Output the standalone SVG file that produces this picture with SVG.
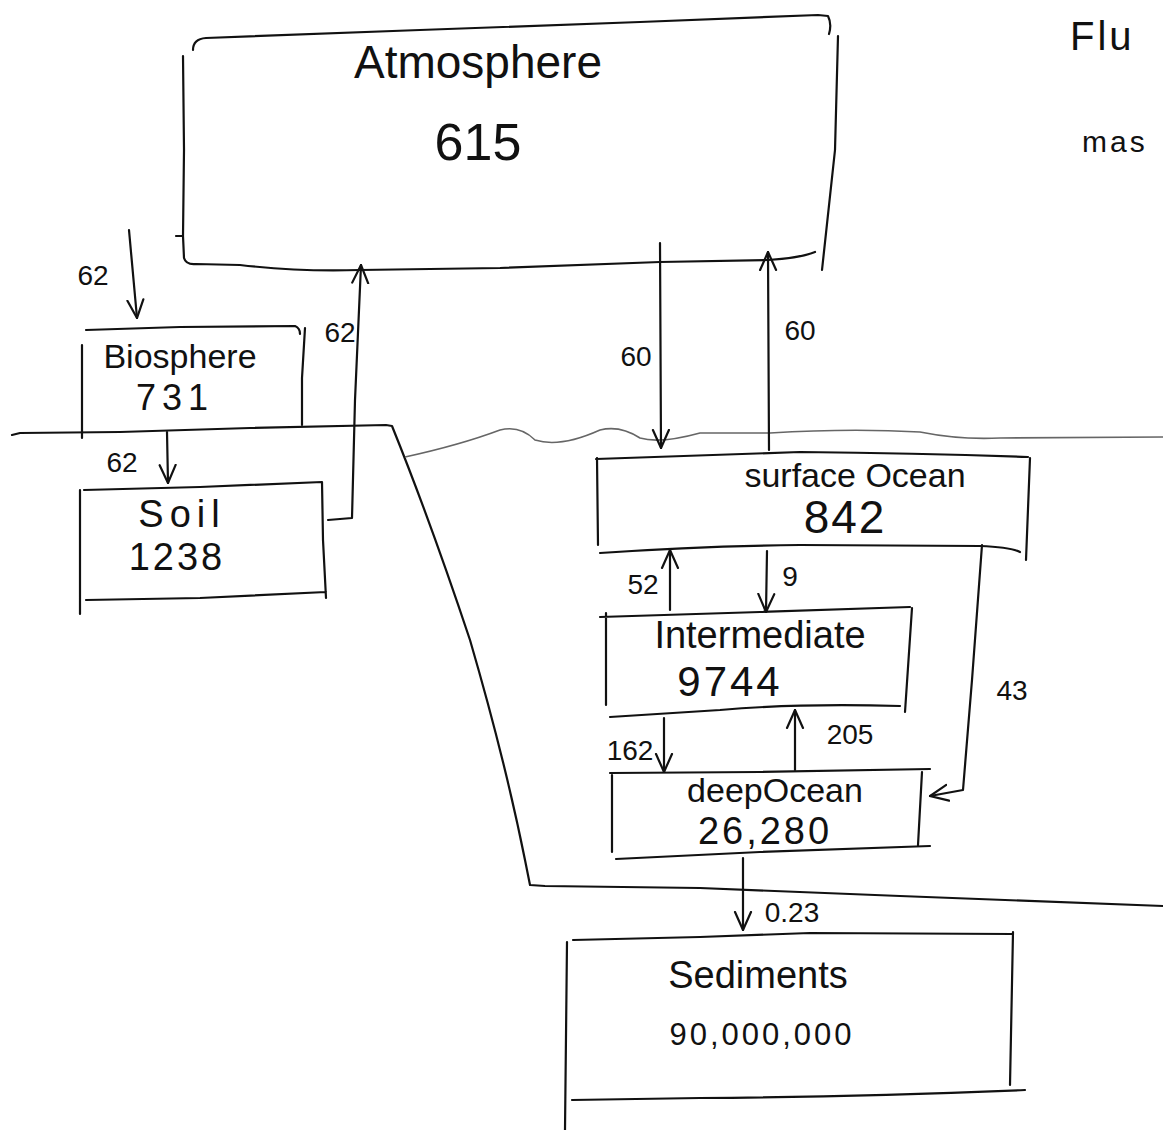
<svg xmlns="http://www.w3.org/2000/svg" width="1163" height="1130" viewBox="0 0 1163 1130">
<style>
.ln{fill:none;stroke:#111;stroke-width:2.2;stroke-linecap:round;stroke-linejoin:round}
.gr{fill:none;stroke:#666;stroke-width:1.6}
.t{font-family:"Liberation Sans","DejaVu Sans",sans-serif;fill:#111;text-anchor:middle}
.s{font-family:"Liberation Sans","DejaVu Sans",sans-serif;fill:#111;text-anchor:start}
.lbl{font-family:"Liberation Sans","DejaVu Sans",sans-serif;fill:#111;font-size:28px;text-anchor:middle}
</style>
<defs>
<marker id="arr" viewBox="0 0 20 20" refX="19" refY="10" markerWidth="20" markerHeight="20" markerUnits="userSpaceOnUse" orient="auto">
<path d="M1,2 L19,10 L1,18" fill="none" stroke="#111" stroke-width="2.2" stroke-linecap="round"/>
</marker>
</defs>
<rect width="1163" height="1130" fill="#fff"/>

<g id="terrain">
<path class="ln" d="M12,435 L20,433 L120,432 L250,428 L386,425 L392,426 Q430,520 470,640 Q505,760 525,860 L530,885 L545,886 L700,888 L900,896 L1163,906"/>
<path class="gr" d="M405,457 Q460,445 500,430 Q520,425 535,440 Q560,448 600,430 Q620,425 640,438 Q660,444 700,433 L770,433 Q850,428 920,432 Q960,440 1000,438 L1163,437"/>
</g>

<g id="title">
<text class="s" x="1070" y="50" font-size="40" letter-spacing="3">Flu</text>
<text class="s" x="1082" y="152" font-size="30" letter-spacing="3">mas</text>
</g>

<g id="atmosphere">
<path class="ln" d="M193,50 Q193,39 206,38 L420,30 L640,22 L818,15 L828,16 Q832,24 829,34"/>
<path class="ln" d="M183,56 L184,150 L183,236 M176,236 L183,236 L184,258 Q186,265 196,264 L240,265 Q300,272 360,270 L500,268 L660,262 L768,260 Q800,258 815,252"/>
<path class="ln" d="M838,36 L835,150 L822,270"/>
<text class="t" x="478" y="78" font-size="46">Atmosphere</text>
<text class="t" x="478" y="160" font-size="52">615</text>
</g>

<g id="biosphere">
<path class="ln" d="M86,330 L180,327 L295,326 Q300,328 300,334 M305,328 L302,378 L302,425 M82,345 L82,438"/>
<text class="t" x="180" y="368" font-size="34">Biosphere</text>
<text class="t" x="175" y="410" font-size="36" letter-spacing="6">731</text>
</g>

<g id="soil">
<path class="ln" d="M84,490 L200,487 L322,482 L323,540 L326,598 M86,600 L200,598 L326,592 M80,490 L80,614"/>
<text class="t" x="182" y="527" font-size="38" letter-spacing="6">Soil</text>
<text class="t" x="177" y="570" font-size="38" letter-spacing="3">1238</text>
</g>

<g id="surface-ocean">
<path class="ln" d="M596,459 Q700,455 800,452 Q920,453 1028,457 M597,458 L598,545 M1030,458 L1026,560 M600,553 Q700,546 800,545 L980,546 Q1010,547 1020,552"/>
<text class="t" x="855" y="487" font-size="34">surface Ocean</text>
<text class="t" x="845" y="533" font-size="46" letter-spacing="2">842</text>
</g>

<g id="intermediate">
<path class="ln" d="M600,617 L760,612 L910,607 M606,613 L606,705 M912,608 L905,712 M610,717 L720,710 Q800,703 900,706"/>
<text class="t" x="760" y="648" font-size="38">Intermediate</text>
<text class="t" x="730" y="696" font-size="42" letter-spacing="3">9744</text>
</g>

<g id="deep-ocean">
<path class="ln" d="M610,773 L760,772 L930,769 M612,775 L612,852 M922,772 L918,845 M616,859 L760,852 L930,846"/>
<text class="t" x="775" y="802" font-size="34">deepOcean</text>
<text class="t" x="765" y="844" font-size="38" letter-spacing="3">26,280</text>
</g>

<g id="sediments">
<path class="ln" d="M573,940 L700,937 L810,933 L1012,934 M1013,932 L1010,1085 M567,942 L565,1130 M572,1100 L700,1098 Q850,1097 1025,1090"/>
<text class="t" x="758" y="988" font-size="38">Sediments</text>
<text class="t" x="762" y="1045" font-size="31" letter-spacing="3">90,000,000</text>
</g>

<g id="connectors">
<path class="ln" d="M129,230 L137,318" marker-end="url(#arr)"/>
<path class="ln" d="M167,432 L168,483" marker-end="url(#arr)"/>
<path class="ln" d="M328,520 L352,518 L355,400 L361,265" marker-end="url(#arr)"/>
<path class="ln" d="M660,243 L661,448" marker-end="url(#arr)"/>
<path class="ln" d="M769,450 L768,252" marker-end="url(#arr)"/>
<path class="ln" d="M670,610 L670,550" marker-end="url(#arr)"/>
<path class="ln" d="M767,551 L766,612" marker-end="url(#arr)"/>
<path class="ln" d="M664,718 L664,772" marker-end="url(#arr)"/>
<path class="ln" d="M795,770 L795,710" marker-end="url(#arr)"/>
<path class="ln" d="M982,545 L972,680 L963,790 L930,796" marker-end="url(#arr)"/>
<path class="ln" d="M743,858 L743,930" marker-end="url(#arr)"/>
<text class="lbl" x="93" y="285" font-size="32">62</text>
<text class="lbl" x="122" y="472">62</text>
<text class="lbl" x="340" y="342" font-size="26">62</text>
<text class="lbl" x="636" y="366" font-size="30">60</text>
<text class="lbl" x="800" y="340" font-size="30">60</text>
<text class="lbl" x="643" y="594" font-size="26">52</text>
<text class="lbl" x="790" y="586" font-size="30">9</text>
<text class="lbl" x="630" y="760" font-size="26">162</text>
<text class="lbl" x="850" y="744" font-size="30">205</text>
<text class="lbl" x="1012" y="700" font-size="32">43</text>
<text class="lbl" x="792" y="922" font-size="32">0.23</text>
</g>
</svg>
